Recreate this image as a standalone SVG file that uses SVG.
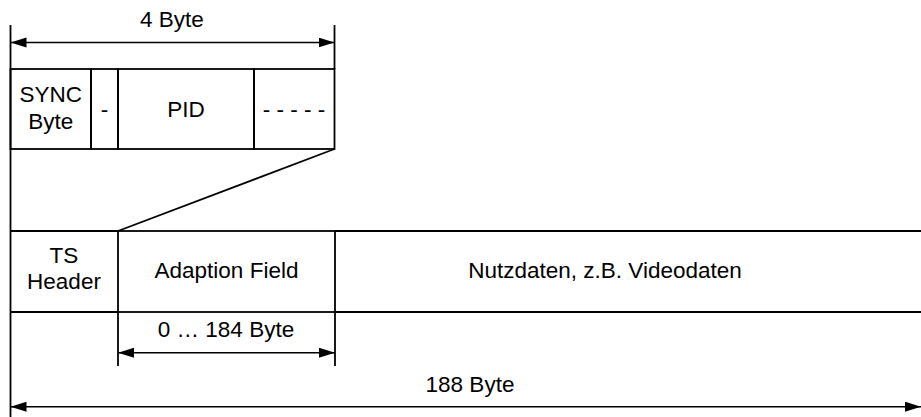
<svg xmlns="http://www.w3.org/2000/svg" width="921" height="417" viewBox="0 0 921 417">
<style>
  .box { fill: none; stroke: #000; stroke-width: 1.8; }
  .ln { fill: none; stroke: #000; stroke-width: 1.8; }
  .dim { fill: none; stroke: #000; stroke-width: 1.5; }
  .t { font-family: "Liberation Sans", Arial, sans-serif; font-size: 22.5px; fill: #000; text-anchor: middle; }
</style>
<defs>
  <marker id="ah" markerUnits="userSpaceOnUse" markerWidth="17" markerHeight="11" refX="16" refY="5" orient="auto-start-reverse">
    <path d="M0,0 L16,5 L0,10 z" fill="#000"/>
  </marker>
</defs>
<rect width="921" height="417" fill="#fff"/>

<g id="header-fields">
  <g id="sync-byte">
    <rect class="box" x="10.5" y="69" width="80.5" height="80"/>
    <text class="t" x="50.7" y="102">SYNC</text>
    <text class="t" x="50.7" y="129">Byte</text>
  </g>
  <g id="flags">
    <rect class="box" x="91" y="69" width="27" height="80"/>
    <text class="t" x="104.5" y="117">-</text>
  </g>
  <g id="pid">
    <rect class="box" x="118" y="69" width="136" height="80"/>
    <text class="t" x="186" y="117">PID</text>
  </g>
  <g id="rest">
    <rect class="box" x="254" y="69" width="80.5" height="80"/>
    <text class="t" x="294" y="117">- - - - -</text>
  </g>
</g>

<g id="packet">
  <g id="ts-header">
    <line class="ln" x1="10.5" y1="231" x2="118" y2="231"/>
    <line class="ln" x1="10.5" y1="312" x2="118" y2="312"/>
    <text class="t" x="64" y="263">TS</text>
    <text class="t" x="64" y="289">Header</text>
  </g>
  <g id="adaption-field">
    <rect class="box" x="118" y="231" width="217" height="81"/>
    <text class="t" x="226.5" y="278">Adaption Field</text>
  </g>
  <g id="payload">
    <line class="ln" x1="335" y1="231" x2="921" y2="231"/>
    <line class="ln" x1="335" y1="312" x2="921" y2="312"/>
    <text class="t" x="605" y="278">Nutzdaten, z.B. Videodaten</text>
  </g>
</g>

<g id="connectors">
  <line class="ln" x1="10.5" y1="25" x2="10.5" y2="417"/>
  <line class="ln" x1="334.5" y1="25" x2="334.5" y2="69"/>
  <line class="ln" x1="118" y1="231" x2="334.5" y2="149"/>
  <line class="ln" x1="118" y1="312" x2="118" y2="366"/>
  <line class="ln" x1="335" y1="312" x2="335" y2="366"/>
  <line class="dim" x1="10.5" y1="42.5" x2="334.5" y2="42.5" marker-start="url(#ah)" marker-end="url(#ah)"/>
  <line class="dim" x1="118" y1="352.7" x2="335" y2="352.7" marker-start="url(#ah)" marker-end="url(#ah)"/>
  <line class="dim" x1="10.5" y1="406.7" x2="921" y2="406.7" marker-start="url(#ah)" marker-end="url(#ah)"/>
</g>

<g id="dimension-labels">
  <text class="t" x="172" y="27">4 Byte</text>
  <text class="t" x="226" y="337">0 … 184 Byte</text>
  <text class="t" x="470" y="392">188 Byte</text>
</g>
</svg>
